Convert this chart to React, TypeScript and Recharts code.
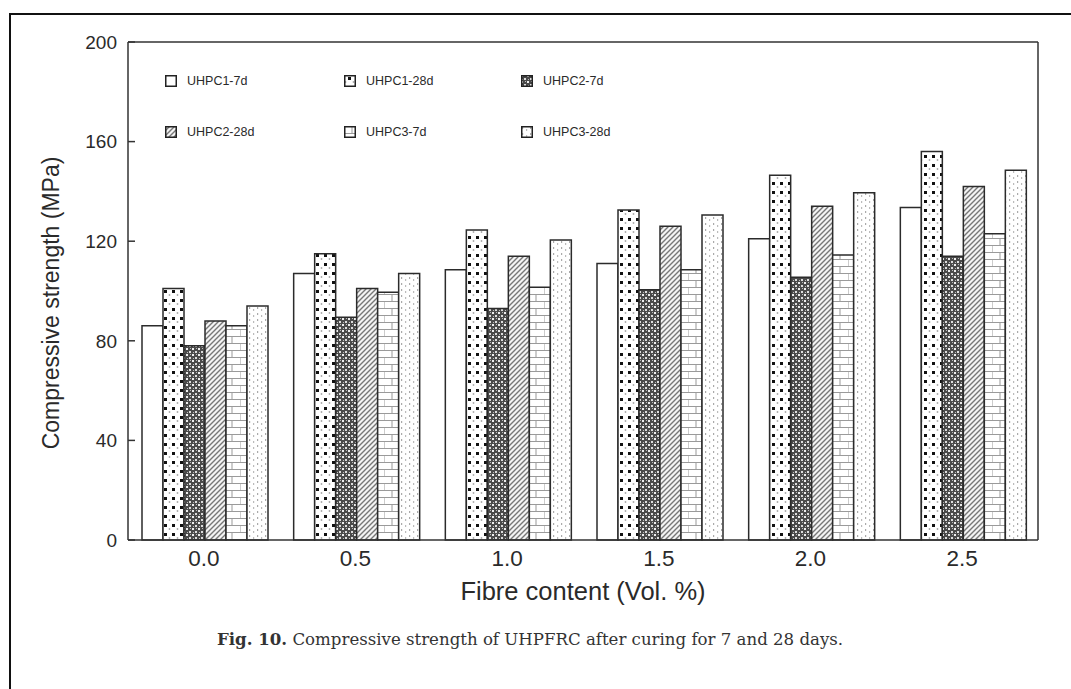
import React from "react";
import { BarChart, Bar, XAxis, YAxis, Legend, CartesianGrid } from "recharts";

const fibre = ["0.0", "0.5", "1.0", "1.5", "2.0", "2.5"];
const uhpc1_7d = [86, 107, 108.5, 111, 121, 133.5];
const uhpc1_28d = [101, 115, 124.5, 132.5, 146.5, 156];
const uhpc2_7d = [78, 89.5, 93, 100.5, 105.5, 114];
const uhpc2_28d = [88, 101, 114, 126, 134, 142];
const uhpc3_7d = [86, 99.5, 101.5, 108.5, 114.5, 123];
const uhpc3_28d = [94, 107, 120.5, 130.5, 139.5, 148.5];
const yTicks = [0, 40, 80, 120, 160, 200];

const series = [
  { key: "u1_7", name: "UHPC1-7d", fill: "#ffffff" },
  { key: "u1_28", name: "UHPC1-28d", fill: "url(#pDots)" },
  { key: "u2_7", name: "UHPC2-7d", fill: "url(#pLace)" },
  { key: "u2_28", name: "UHPC2-28d", fill: "url(#pHatch)" },
  { key: "u3_7", name: "UHPC3-7d", fill: "url(#pBrick)" },
  { key: "u3_28", name: "UHPC3-28d", fill: "url(#pSpeck)" },
];

const data = fibre.map((f, i) => ({
  fibre: f,
  u1_7: uhpc1_7d[i],
  u1_28: uhpc1_28d[i],
  u2_7: uhpc2_7d[i],
  u2_28: uhpc2_28d[i],
  u3_7: uhpc3_7d[i],
  u3_28: uhpc3_28d[i],
}));

const FONT = "'Liberation Sans', Arial, sans-serif";
const INK = "#2a2a2a";

// fill patterns roughly imitating the printed hatches
function Patterns() {
  return (
    <svg width={0} height={0} style={{ position: "absolute" }}>
      <defs>
        <pattern id="pDots" width="8" height="9" patternUnits="userSpaceOnUse">
          <rect width="8" height="9" fill="#fff" />
          <rect x="4" y="2" width="3" height="3" fill="#111" />
          <circle cx="1.5" cy="7" r="0.9" fill="#aaa" />
        </pattern>
        <pattern id="pLace" width="6" height="6" patternUnits="userSpaceOnUse">
          <rect width="6" height="6" fill="#4a4a4a" />
          <rect x="0" y="0" width="2" height="2" fill="#eee" />
          <rect x="3" y="3" width="2" height="2" fill="#ddd" />
          <rect x="4" y="0" width="1" height="1" fill="#bbb" />
          <rect x="1" y="4" width="1" height="1" fill="#bbb" />
        </pattern>
        <pattern id="pHatch" width="5" height="5" patternUnits="userSpaceOnUse">
          <rect width="5" height="5" fill="#f4f4f4" />
          <path d="M-1,6 L6,-1 M-1,1 L1,-1 M4,6 L6,4" stroke="#777" strokeWidth="1.4" />
        </pattern>
        <pattern id="pBrick" width="16" height="14" patternUnits="userSpaceOnUse">
          <rect width="16" height="14" fill="#fff" />
          <path d="M0,0.5 H16 M0,7.5 H16 M8,0 V7 M0,7 V14" stroke="#9a9a9a" strokeWidth="1" />
        </pattern>
        <pattern id="pSpeck" width="8" height="6" patternUnits="userSpaceOnUse">
          <rect width="8" height="6" fill="#fff" />
          <rect x="1" y="1" width="1.2" height="2" fill="#aaa" />
          <rect x="5" y="3" width="1.2" height="2" fill="#bbb" />
        </pattern>
      </defs>
    </svg>
  );
}

function LegendBox() {
  return (
    <div
      style={{
        display: "grid",
        gridTemplateColumns: "179px 177px 160px",
        rowGap: 37,
        fontFamily: FONT,
        fontSize: 12.5,
        color: INK,
      }}
    >
      {series.map((s) => (
        <div key={s.key} style={{ display: "flex", alignItems: "center", height: 14 }}>
          <svg width={12} height={12} style={{ marginRight: 10 }}>
            <rect x={0.75} y={0.75} width={10.5} height={10.5} fill={s.fill} stroke="#222" strokeWidth={1.5} />
          </svg>
          <span>{s.name}</span>
        </div>
      ))}
    </div>
  );
}

function XTitle(props: any) {
  const vb = props.viewBox ?? { x: 128, y: 540, width: 910, height: 30 };
  return (
    <text
      x={vb.x + vb.width / 2}
      y={vb.y + vb.height + 30}
      textAnchor="middle"
      fill={INK}
      fontSize={25.5}
      fontFamily={FONT}
    >
      Fibre content (Vol. %)
    </text>
  );
}

function YTitle(props: any) {
  const vb = props.viewBox ?? { x: 68, y: 42, width: 60, height: 498 };
  const x = vb.x - 9;
  const y = vb.y + vb.height / 2 + 12;
  return (
    <text
      x={x}
      y={y}
      transform={`rotate(-90 ${x} ${y})`}
      textAnchor="middle"
      fill={INK}
      fontSize={23}
      fontFamily={FONT}
    >
      Compressive strength (MPa)
    </text>
  );
}

export default function App() {
  return (
    <div style={{ position: "absolute", left: 0, top: 0, width: 1071, height: 689, background: "#fff", overflow: "hidden" }}>
      <Patterns />
      <div
        style={{
          position: "absolute",
          left: 9,
          top: 13,
          width: 1100,
          height: 720,
          border: "2px solid #111",
        }}
      />
      <div style={{ position: "absolute", left: 0, top: 0 }}>
        <BarChart
          width={1071}
          height={689}
          data={data}
          margin={{ top: 42, right: 33, bottom: 119, left: 68 }}
          barCategoryGap={14}
          barGap={0}
        >
          <CartesianGrid horizontalPoints={[42]} verticalPoints={[1038]} stroke="#333" strokeWidth={1.5} />
          <XAxis
            dataKey="fibre"
            height={30}
            tickLine={false}
            tickSize={0}
            tickMargin={10}
            axisLine={{ stroke: "#333", strokeWidth: 1.5 }}
            tick={{ fill: INK, fontSize: 22.5, fontFamily: FONT }}
            label={<XTitle />}
          />
          <YAxis
            domain={[0, 200]}
            ticks={yTicks}
            width={60}
            tickSize={-7}
            tickMargin={18}
            axisLine={{ stroke: "#333", strokeWidth: 1.5 }}
            tickLine={{ stroke: "#333", strokeWidth: 1.5 }}
            tick={{ fill: INK, fontSize: 19, fontFamily: FONT }}
            label={<YTitle />}
          />
          <Legend
            layout="horizontal"
            verticalAlign="middle"
            align="center"
            content={() => <LegendBox />}
            wrapperStyle={{ position: "absolute", left: 165, top: 74, width: 560 }}
          />
          {series.map((s) => (
            <Bar
              key={s.key}
              dataKey={s.key}
              name={s.name}
              fill={s.fill}
              stroke="#2b2b2b"
              strokeWidth={1.5}
              isAnimationActive={false}
            />
          ))}
        </BarChart>
      </div>
      <div
        style={{
          position: "absolute",
          top: 629,
          left: 217,
          whiteSpace: "nowrap",
          fontFamily: "'DejaVu Serif', serif",
          fontSize: 16.6,
          color: "#333",
        }}
      >
        <b>Fig. 10.</b> Compressive strength of UHPFRC after curing for 7 and 28 days.
      </div>
    </div>
  );
}
